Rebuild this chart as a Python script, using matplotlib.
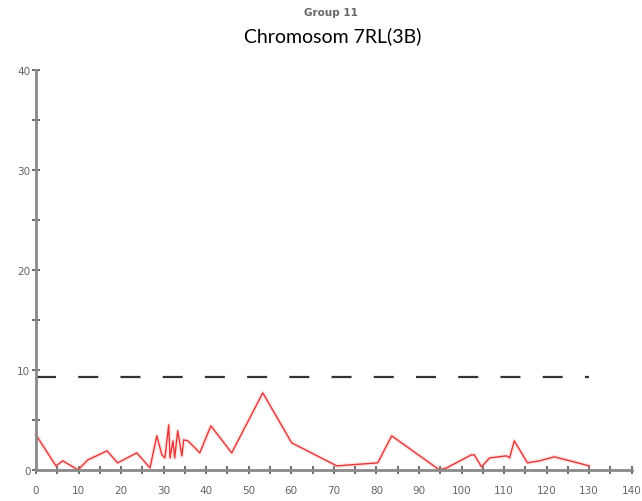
import matplotlib.pyplot as plt
from matplotlib.ticker import MultipleLocator

# LOD profile along the linkage group (position in cM, LOD score)
pos = [0, 4.7, 6.3, 9.9, 12.2, 16.7, 19.2, 23.7, 26.8, 28.4, 29.6, 30.3,
       31.2, 31.5, 32.2, 32.6, 33.3, 34.3, 34.7, 35.7, 36.9, 38.5, 41.1,
       46.0, 53.3, 60.1, 70.7, 80.3, 83.6, 94.8, 96.5, 102.3, 103.0, 104.7,
       106.6, 110.6, 111.3, 112.4, 115.5, 118.3, 121.8, 124.6, 130.0]
lod = [3.5, 0.4, 0.9, 0.0, 1.0, 1.9, 0.7, 1.7, 0.2, 3.4, 1.5, 1.2,
       4.5, 1.2, 2.9, 1.2, 3.9, 1.4, 3.0, 2.9, 2.4, 1.7, 4.4,
       1.7, 7.7, 2.7, 0.4, 0.7, 3.4, 0.0, 0.2, 1.5, 1.5, 0.3,
       1.2, 1.4, 1.2, 2.9, 0.7, 0.9, 1.3, 1.0, 0.4]

threshold = 9.3
threshold_span = [0, 130]

fig = plt.figure(figsize=(6.42, 5.02), dpi=100)
ax = fig.add_axes([0.056, 0.062, 0.928, 0.797])

# soft halo under the profile, then the profile itself
ax.plot(pos, lod, color='#ff9090', lw=3, alpha=0.25, clip_on=False)
ax.plot(pos, lod, color='#e43838', lw=1.0, clip_on=False)
ax.plot(threshold_span, [threshold, threshold], color='#333333', lw=1.6,
        dashes=(9, 10))

ax.set_xlim(0, 140)
ax.set_ylim(0, 40)
ax.xaxis.set_major_locator(MultipleLocator(10))
ax.xaxis.set_minor_locator(MultipleLocator(5))
ax.yaxis.set_major_locator(MultipleLocator(10))
ax.yaxis.set_minor_locator(MultipleLocator(5))

for side in ['top', 'right']:
    ax.spines[side].set_visible(False)
for side in ['left', 'bottom']:
    ax.spines[side].set_color('#8a8a8a')
    ax.spines[side].set_linewidth(2)

ax.tick_params(which='both', direction='inout', length=6, width=1.2,
               color='#555555', labelcolor='#666666', labelsize=7.5)
ax.tick_params(axis='x', pad=8)
ax.tick_params(axis='y', pad=1)

fig.text(0.515, 0.975, 'Group 11', ha='center', va='center',
         fontsize=7.5, fontweight='bold', color='#666666')
fig.text(0.518, 0.928, 'Chromosom 7RL(3B)', ha='center', va='center',
         fontsize=14, color='black', family='Lato')

fig.savefig('out.png', dpi=100)
